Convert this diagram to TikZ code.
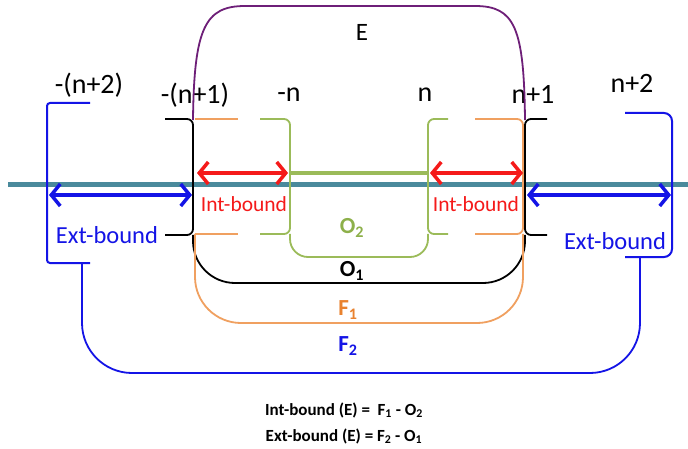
\documentclass[tikz,border=0pt]{standalone}
\usepackage{fontspec}
\setmainfont{Carlito}
\usetikzlibrary{positioning,arrows.meta,calc}
\definecolor{axisteal}{HTML}{4A8A9C}
\definecolor{epurple}{HTML}{6E1F78}
\definecolor{forange}{HTML}{F0A060}
\definecolor{forangetxt}{HTML}{E9822F}
\definecolor{ogreen}{HTML}{9BBB59}
\definecolor{ogreentxt}{HTML}{8DB04A}
\definecolor{extblue}{HTML}{1414E6}
\definecolor{intred}{HTML}{F51A1A}

\tikzset{
  poslbl/.style={font=\fontsize{28}{30}\selectfont, inner sep=0pt},
  intlbl/.style={text=intred, font=\fontsize{21.5}{24}\selectfont, inner sep=0pt},
  extlbl/.style={text=extblue, font=\fontsize{24.5}{27}\selectfont, inner sep=0pt},
  setlbl/.style={font=\bfseries\fontsize{23}{25}\selectfont, inner sep=0pt},
  brk/.style={line width=1.8pt, rounded corners=6pt},
  cup/.style={line width=1.8pt, rounded corners=42pt},
  bndarrow/.style={line width=4pt,
    {Straight Barb[length=9pt,width=22pt,line width=3.5pt]}-{Straight Barb[length=9pt,width=22pt,line width=3.5pt]}}
}

\begin{document}
\begin{tikzpicture}[x=1pt,y=-1pt]
\useasboundingbox[fill=white] (0,0) rectangle (688,449);

% axis
\draw[axisteal, line width=5pt] (8,185) -- (688,185);

% position labels
\node[poslbl] (pnn2) at (89,85) {-(n+2)};
\node[poslbl] (pnn1) at (195,95) {-(n+1)};
\node[poslbl] (pnn)  at (289,95) {-n};
\node[poslbl] (ppn)  at (425,95) {n};
\node[poslbl] (ppn1) at (533,94) {n+1};
\node[poslbl] (ppn2) at (632,83) {n+2};

% E
\draw[epurple, line width=1.8pt] (193,120) .. controls (194,28) and (205,6) .. (245,6)
  -- (475,6) .. controls (515,6) and (524,28) .. (525,120);
\node[poslbl, font=\fontsize{25}{27}\selectfont] (elbl) at (362,32) {E};

% O1 (black)
\draw[brk] (165,119) -- (193,119) -- (193,235) -- (165,235);
\draw[brk] (547,119) -- (525,119) -- (525,235) -- (547,235);
\draw[cup] (193,235) -- (193,283) -- (525,283) -- (525,235);

% F1 (orange)
\draw[forange, line width=1.8pt] (195,119) -- (238,119) (195,234) -- (238,234);
\draw[brk, forange] (475,119) -- (523,119) -- (523,234) -- (475,234);
\draw[cup, forange, rounded corners=46pt] (195,234) -- (195,323) -- (523,323) -- (523,234);

% O2 (green)
\draw[brk, ogreen] (260,119) -- (290,119) -- (290,234) -- (260,234);
\draw[brk, ogreen] (448,119) -- (428,119) -- (428,234) -- (448,234);
\draw[cup, ogreen, rounded corners=18pt] (290,234) -- (290,257) -- (428,257) -- (428,234);
\draw[ogreen, line width=4pt] (290,173) -- (428,173);

% F2 (blue)
\draw[brk, extblue, line width=2pt, rounded corners=3pt] (90,103) -- (47,103) -- (47,263) -- (90,263);
\draw[brk, extblue, line width=2pt, rounded corners=8pt] (625,113) -- (672,113) -- (672,257) -- (625,257);
\draw[cup, extblue, rounded corners=50pt] (82,263) -- (82,373) -- (640,373) -- (640,257);

% bounds
\coordinate (intla) at (197,173);
\coordinate (intlb) at (288,173);
\coordinate (intra) at (430,173);
\coordinate (intrb) at (523,173);
\coordinate (extla) at (49,195);
\coordinate (extlb) at (192,195);
\coordinate (extra) at (527,195);
\coordinate (extrb) at (671,195);
\draw[bndarrow, intred] (intla) -- (intlb);
\draw[bndarrow, intred] (intra) -- (intrb);
\draw[bndarrow, extblue] (extla) -- (extlb);
\draw[bndarrow, extblue] (extra) -- (extrb);

\node[intlbl] (intl) at (244,204) {Int-bound};
\node[intlbl] (intr) at (476,204) {Int-bound};
\node[extlbl] (extl) at (107,235) {Ext-bound};
\node[extlbl] (extr) at (615,241) {Ext-bound};

% set labels
\node[setlbl, text=ogreentxt] (otwo) at (352,228) {O\textsubscript{2}};
\node[setlbl] (oone) at (352,271) {O\textsubscript{1}};
\node[setlbl, text=forangetxt] (fone) at (348,310) {F\textsubscript{1}};
\node[setlbl, text=extblue] (ftwo) at (348,346) {F\textsubscript{2}};

% formulas
\node[font=\bfseries\fontsize{17}{26}\selectfont, align=center] (formula) at (344,423)
  {Int-bound (E) =\ \ F\textsubscript{1} - O\textsubscript{2}\\Ext-bound (E) = F\textsubscript{2} - O\textsubscript{1}};
\end{tikzpicture}
\end{document}
